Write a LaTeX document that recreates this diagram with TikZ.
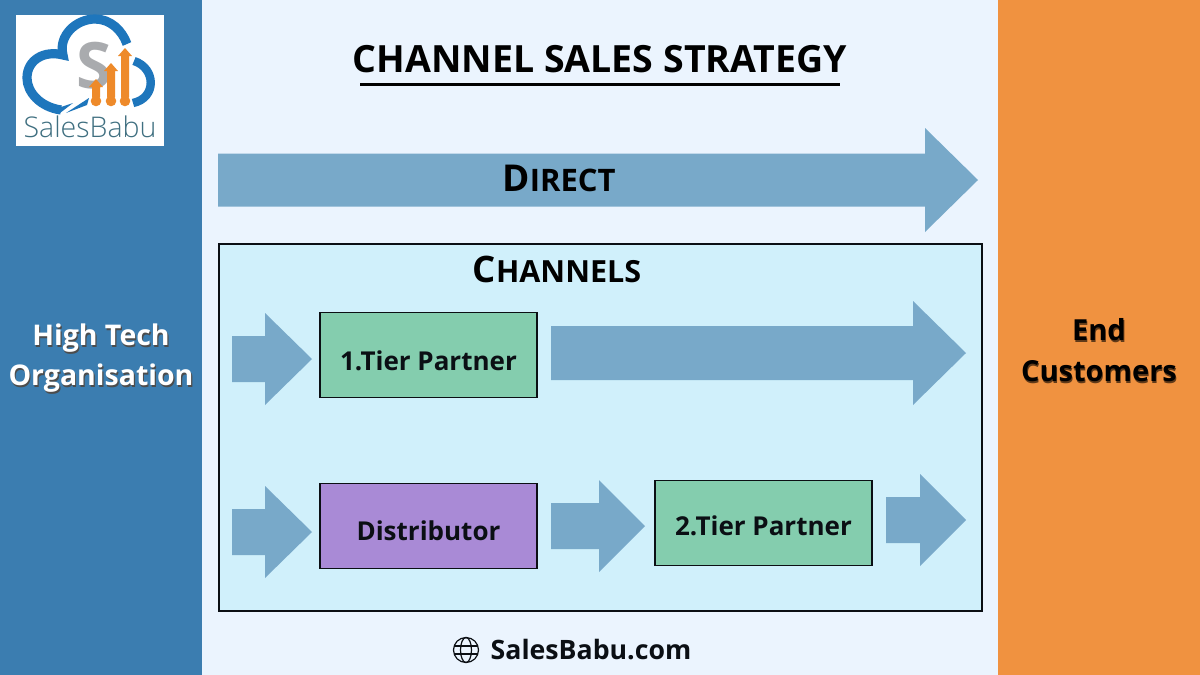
\documentclass[tikz,border=0pt]{standalone}
\usepackage{fontspec}
\setmainfont{Open Sans}
\newfontfamily\lightf{Open Sans Light}
\definecolor{leftblue}{HTML}{3B7DB0}
\definecolor{orangeb}{HTML}{F09240}
\definecolor{paleb}{HTML}{EBF4FE}
\definecolor{chanb}{HTML}{D0F0FB}
\definecolor{arrowb}{HTML}{78A9C9}
\definecolor{greenb}{HTML}{84CDAE}
\definecolor{purpleb}{HTML}{A98AD6}
\definecolor{inkb}{HTML}{0B0F14}
\definecolor{logob}{HTML}{1E76BC}
\definecolor{logoo}{HTML}{EE8A2A}
\definecolor{logog}{HTML}{A9ABAE}
\definecolor{logot}{HTML}{3F6F80}
\newcommand{\fs}[1]{\fontsize{\dimexpr#1pt*1/2\relax}{\dimexpr#1pt*3/5\relax}\selectfont}
\newcommand{\blockarrow}[6]{% x0, xneck, xtip, ymid, halfshaft, halfhead
  \fill[arrowfill] (#1,#4-#5) -- (#2,#4-#5) -- (#2,#4-#6) -- (#3,#4) -- (#2,#4+#6) -- (#2,#4+#5) -- (#1,#4+#5) -- cycle;}
\tikzset{
  x=0.5pt,y=-0.5pt,
  arrowfill/.style={fill=arrowb},
  boxnode/.style={draw=inkb,line width=0.8pt,minimum width=108.5pt,minimum height=42.5pt,inner sep=0pt},
  boxtext/.style={inner sep=0pt,text=inkb,font=\bfseries\fs{26}},
  sidetext/.style={align=center,font=\bfseries\fs{28.5},inner sep=0pt},
  headtext/.style={inner sep=0pt,text=black,font=\bfseries},
}
\begin{document}
\begin{tikzpicture}
\useasboundingbox (0,0) rectangle (1200,675);
\fill[paleb] (0,0) rectangle (1200,675);
\fill[leftblue] (0,0) rectangle (202,675);
\fill[orangeb] (998,0) rectangle (1200,675);
% logo
\fill[white] (16,15) rectangle (164,146);
\draw[logob,line width=4.6pt,line cap=butt]
  (61,110) .. controls (40,107) and (27,92) .. (27,78)
  .. controls (27,60) and (44,50) .. (63,55)
  .. controls (58,36) and (76,19) .. (95,19)
  .. controls (110,19) and (122,30) .. (127,44);
\draw[logob,line width=4.2pt] (134,61) .. controls (156,68) and (157,98) .. (133,103);
\fill[logob] (58,108) -- (73,103) -- (60,113) -- cycle;
\fill[logob] (66,113) -- (89,98) -- (87,105) -- cycle;
\fill[white] (76,34) .. controls (86,27) and (92,35) .. (100,39) .. controls (90,37) and (85,34) .. (76,34) -- cycle;
\node[inner sep=0pt,text=logog,font=\bfseries\fs{64}] (logoS) at (94,66) {S};
\foreach \xa/\ya in {96/79,111/63,125/48}{
  \fill[logoo] (\xa-4,97) -- (\xa-4,\ya+8) -- (\xa-7,\ya+8) -- (\xa,\ya) -- (\xa+7,\ya+8) -- (\xa+4,\ya+8) -- (\xa+4,97) -- cycle;
  \fill[logoo] (\xa,101) circle[radius=5.3];
}
\node[inner sep=0pt,text=logot,font=\lightf\fs{28.5}] (logotext) at (90,127) {SalesBabu};
% title
\node[headtext,font=\bfseries\fs{37.5}] (title) at (600,59) {CHANNEL SALES STRATEGY};
\coordinate (ulL) at (360,84);
\coordinate (ulR) at (840,84);
\draw[black,line width=1.5pt] (ulL) -- (ulR);
% direct arrow
\blockarrow{218}{925}{978}{180}{26.5}{52}
\node[headtext,font=\bfseries\fs{37}] (direct) at (559,178) {D{\fs{31}IRECT}};
% channels panel
\draw[inkb,line width=0.8pt,fill=chanb] (219,244) rectangle (982,611);
\node[headtext,font=\bfseries\fs{36.5}] (channels) at (557,269) {C{\fs{30.5}HANNELS}};
% arrows
\blockarrow{232}{265}{312}{359}{23}{46}
\blockarrow{551}{913}{966}{353}{27}{52}
\blockarrow{232}{265}{312}{532}{23}{46}
\blockarrow{551}{599}{645}{526}{23}{46}
\blockarrow{886}{920}{966}{520}{23}{46}
% boxes
\node[boxnode,fill=greenb] (tier1) at (428.5,355) {};
\node[boxtext] (tier1text) at (428.5,361) {1.Tier Partner};
\node[boxnode,fill=purpleb] (dist) at (428.5,526) {};
\node[boxtext] (disttext) at (428.5,531) {Distributor};
\node[boxnode,fill=greenb] (tier2) at (763.5,523) {};
\node[boxtext] (tier2text) at (763.5,526) {2.Tier Partner};
% side labels
\node[sidetext,text=black!70,xshift=0.6pt,yshift=-0.6pt] at (101,359) {High Tech\\[3.2pt]Organisation};
\node[sidetext,text=white] (org) at (101,358) {High Tech\\[3.2pt]Organisation};
\node[sidetext,font=\bfseries\fs{29},text=black!60!orangeb,xshift=0.4pt,yshift=-0.4pt] at (1099,351) {End\\[3.2pt]Customers};
\node[sidetext,font=\bfseries\fs{29},text=black] (cust) at (1099,350) {End\\[3.2pt]Customers};
% footer
\node[headtext,font=\bfseries\fs{26.7},text=inkb] (site) at (591,650) {SalesBabu.com};
\begin{scope}[draw=inkb,line width=0.6pt]
\draw (466,650) circle[radius=12.5];
\draw (466,650) ellipse[x radius=5.5,y radius=12.5];
\draw (454.5,646) -- (477.5,646);
\draw (454.5,654) -- (477.5,654);
\end{scope}
\end{tikzpicture}
\end{document}
